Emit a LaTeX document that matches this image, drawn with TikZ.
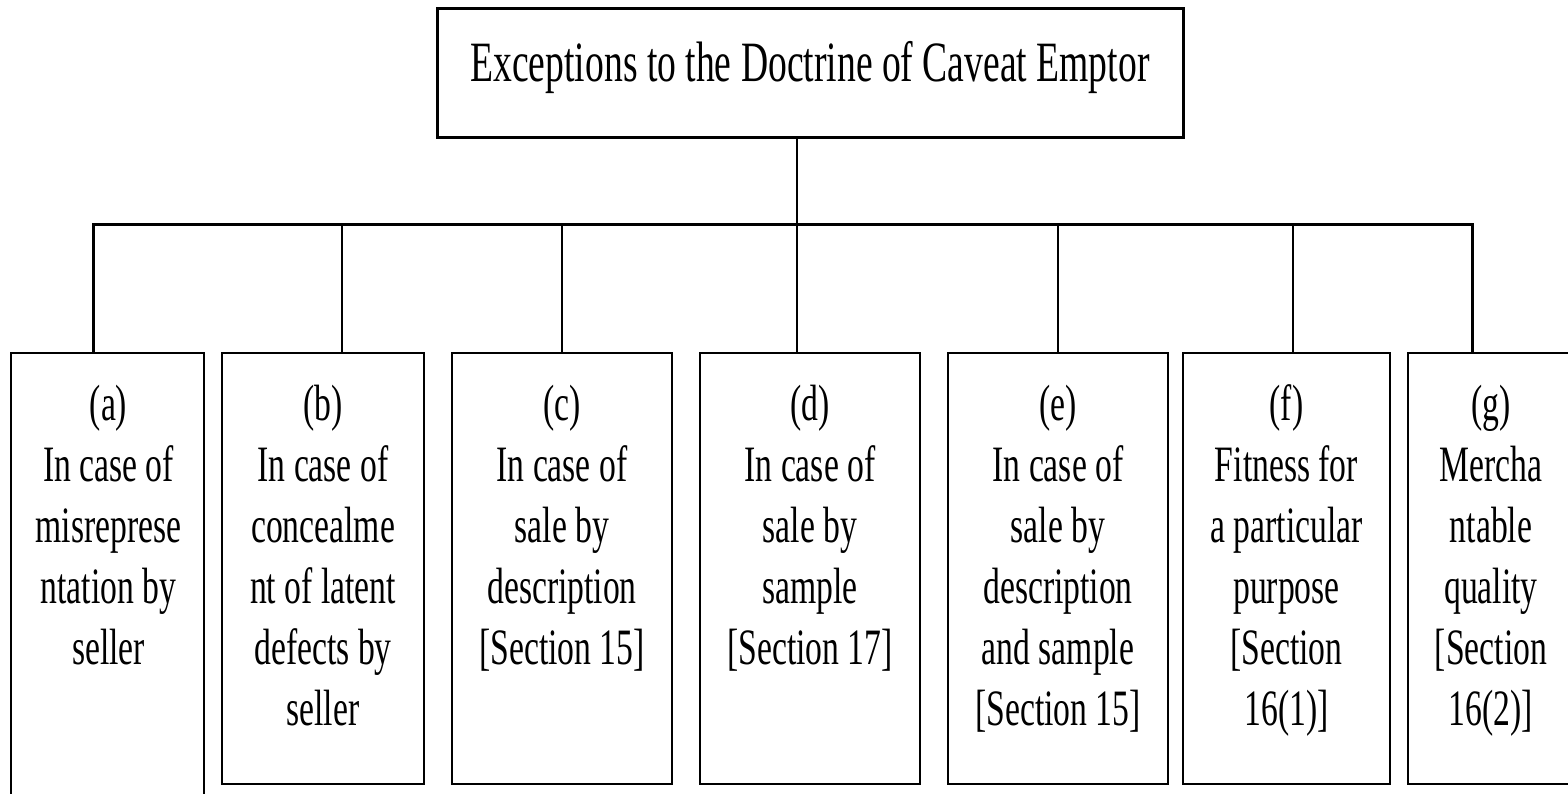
\documentclass[tikz,border=0pt]{standalone}
\usepackage{fontspec}
\setmainfont[FakeStretch=0.66]{Liberation Serif}
\begin{document}
\begin{tikzpicture}[x=1pt,y=-1pt,
  box/.style={draw, line width=2.5pt, rectangle, inner sep=0pt},
  wire/.style={line width=2.5pt},
  bus/.style={line width=3pt, line join=miter},
  txt/.style={align=center, inner sep=0pt, anchor=north, font=\fontsize{51}{61}\selectfont},
  ttl/.style={inner sep=0pt, anchor=base, font=\fontsize{57}{68}\selectfont}]
\clip (0,0) rectangle (1568,793);
\useasboundingbox (0,0) rectangle (1568,793);

% root
\node[box, line width=3pt, minimum width=746pt, minimum height=129pt] (top) at (810,72.5) {};
\node[ttl] (title) at (810,81) {Exceptions to the Doctrine of Caveat Emptor};

% exception boxes
\node[box, minimum width=193pt, minimum height=477pt] (a) at (107.5,591.5) {};
\node[box, minimum width=202pt, minimum height=431pt] (b) at (323,568.5) {};
\node[box, minimum width=220pt, minimum height=431pt] (c) at (562,568.5) {};
\node[box, minimum width=220pt, minimum height=431pt] (d) at (810,568.5) {};
\node[box, minimum width=220pt, minimum height=431pt] (e) at (1058,568.5) {};
\node[box, minimum width=207pt, minimum height=431pt] (f) at (1286.5,568.5) {};
\node[box, minimum width=166pt, minimum height=431pt] (g) at (1491,568.5) {};

% labels
\node[txt] (ta) at ([xshift=1pt,yshift=-26.3pt]a.north) {\strut(a)\\In case of\\misreprese\\ntation by\\seller};
\node[txt] (tb) at ([yshift=-26.3pt]b.north) {\strut(b)\\In case of\\concealme\\nt of latent\\defects by\\seller};
\node[txt] (tc) at ([yshift=-26.3pt]c.north) {\strut(c)\\In case of\\sale by\\description\\{[Section 15]}};
\node[txt] (td) at ([yshift=-26.3pt]d.north) {\strut(d)\\In case of\\sale by\\sample\\{[Section 17]}};
\node[txt] (te) at ([yshift=-26.3pt]e.north) {\strut(e)\\In case of\\sale by\\description\\and sample\\{[Section 15]}};
\node[txt] (tf) at ([yshift=-26.3pt]f.north) {\strut(f)\\Fitness for\\a particular\\purpose\\{[Section}\\16(1)]};
\node[txt] (tg) at ([yshift=-26.3pt]g.north) {\strut(g)\\Mercha\\ntable\\quality\\{[Section}\\16(2)]};

% connectors
\coordinate (hub) at (797,224);
\coordinate (ja) at (93,224);
\coordinate (jb) at (342,224);
\coordinate (jc) at (562,224);
\coordinate (jd) at (797,224);
\coordinate (je) at (1058,224);
\coordinate (jf) at (1293,224);
\coordinate (jg) at (1472,224);

\draw[wire] (top.south -| hub) -- (hub);
\draw[bus] (ja |- a.north) -- (ja) -- (jg) -- (jg |- g.north);
\foreach \j/\n in {jb/b, jc/c, jd/d, je/e, jf/f}
  \draw[wire] (\j) -- (\j |- \n.north);
\end{tikzpicture}
\end{document}
